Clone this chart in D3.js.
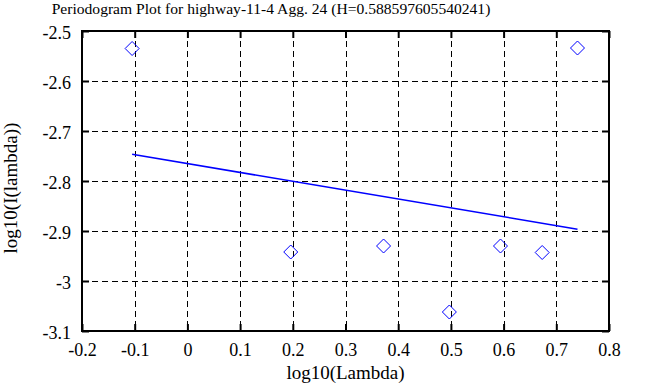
<!DOCTYPE html>
<html>
<head>
<meta charset="utf-8">
<script src="https://cdn.jsdelivr.net/npm/d3@7"></script>
<style>
  body { margin: 0; background: #fff; }
  svg text { font-family: "Liberation Serif", "Times New Roman", serif; fill: #000; }
</style>
</head>
<body>
<svg width="668" height="387"></svg>
<script>
// log10 of frequency vs log10 of periodogram
const pointX = [-0.1049, 0.1961, 0.3722, 0.4971, 0.5941, 0.6732, 0.7402];
const pointY = [-2.535, -2.942, -2.930, -3.062, -2.930, -2.943, -2.534];

// least squares fit line end points
const fitX = [-0.1049, 0.7402];
const fitY = [-2.7466, -2.8964];

const xTicks = [-0.2, -0.1, 0, 0.1, 0.2, 0.3, 0.4, 0.5, 0.6, 0.7, 0.8];
const yTicks = [-2.5, -2.6, -2.7, -2.8, -2.9, -3, -3.1];

const title  = 'Periodogram Plot for highway-11-4 Agg. 24 (H=0.588597605540241)';
const xLabel = 'log10(Lambda)';
const yLabel = 'log10(I(lambda))';

function draw () {
  let svg = d3.select('svg');

  let width  = 668,
      height = 387,
      margin = { top: 31, right: 59, bottom: 56, left: 82 };

  let x = d3.scaleLinear().domain([-0.2, 0.8]).range([margin.left, width - margin.right]),
      y = d3.scaleLinear().domain([-3.1, -2.5]).range([height - margin.bottom, margin.top]);

  let fmt = d => String(+d.toFixed(1));

  // grid
  let grid = svg.append('g')
    .attr('stroke', '#000')
    .attr('stroke-width', 1)
    .attr('stroke-dasharray', '6,4');

  grid.selectAll('.gx')
    .data(xTicks.slice(1, -1))
    .enter().append('line')
      .attr('x1', d => Math.round(x(d)) + 0.5)
      .attr('x2', d => Math.round(x(d)) + 0.5)
      .attr('y1', y(-2.5))
      .attr('y2', y(-3.1));

  grid.selectAll('.gy')
    .data(yTicks.slice(1, -1))
    .enter().append('line')
      .attr('y1', d => Math.round(y(d)) + 0.5)
      .attr('y2', d => Math.round(y(d)) + 0.5)
      .attr('x1', x(-0.2))
      .attr('x2', x(0.8));

  // axes (ticks inside, mirrored)
  let tick = 7;
  let bottom = d3.axisBottom(x).tickValues(xTicks).tickSize(-tick).tickFormat(fmt),
      top    = d3.axisTop(x).tickValues(xTicks).tickSize(-tick).tickFormat(''),
      left   = d3.axisLeft(y).tickValues(yTicks).tickSize(-tick).tickFormat(fmt),
      right  = d3.axisRight(y).tickValues(yTicks).tickSize(-tick).tickFormat('');

  let axes = [
    svg.append('g').attr('transform', `translate(0,${y(-3.1)})`).call(bottom),
    svg.append('g').attr('transform', `translate(0,${y(-2.5)})`).call(top),
    svg.append('g').attr('transform', `translate(${x(-0.2)},0)`).call(left),
    svg.append('g').attr('transform', `translate(${x(0.8)},0)`).call(right)
  ];

  axes.forEach(a => {
    a.select('.domain').remove();
    a.selectAll('line').attr('stroke', '#000').attr('stroke-width', 2);
    a.selectAll('text').attr('font-size', 18).attr('fill', '#000')
      .style('font-family', '"Liberation Serif", serif');
  });
  axes[0].selectAll('text').attr('y', 12);
  axes[2].selectAll('text').attr('x', -11).attr('dy', '0.42em');

  // border
  svg.append('rect')
    .attr('x', x(-0.2))
    .attr('y', y(-2.5))
    .attr('width', x(0.8) - x(-0.2))
    .attr('height', y(-3.1) - y(-2.5))
    .attr('fill', 'none')
    .attr('stroke', '#000')
    .attr('stroke-width', 2);

  // fit line
  svg.append('path')
    .datum(fitX.map((d, i) => [d, fitY[i]]))
    .attr('fill', 'none')
    .attr('stroke', '#0000ff')
    .attr('stroke-width', 1.5)
    .attr('d', d3.line().x(d => x(d[0])).y(d => y(d[1])));

  // diamonds
  svg.append('g').selectAll('path')
    .data(pointX.map((d, i) => [d, pointY[i]]))
    .enter().append('path')
      .attr('fill', 'none')
      .attr('stroke', '#0000ff')
      .attr('stroke-width', 1)
      .attr('transform', d => `translate(${x(d[0])},${y(d[1])})`)
      .attr('d', 'M0,-7L7,0L0,7L-7,0Z');

  // labels
  svg.append('text')
    .attr('x', 271)
    .attr('y', 14)
    .attr('text-anchor', 'middle')
    .attr('font-size', 15.6)
    .text(title);

  svg.append('text')
    .attr('x', (x(-0.2) + x(0.8)) / 2)
    .attr('y', 379)
    .attr('text-anchor', 'middle')
    .attr('font-size', 19)
    .text(xLabel);

  svg.append('text')
    .attr('transform', 'translate(16.5,188) rotate(-90)')
    .attr('text-anchor', 'middle')
    .attr('font-size', 19)
    .text(yLabel);
}

draw();
</script>
</body>
</html>
